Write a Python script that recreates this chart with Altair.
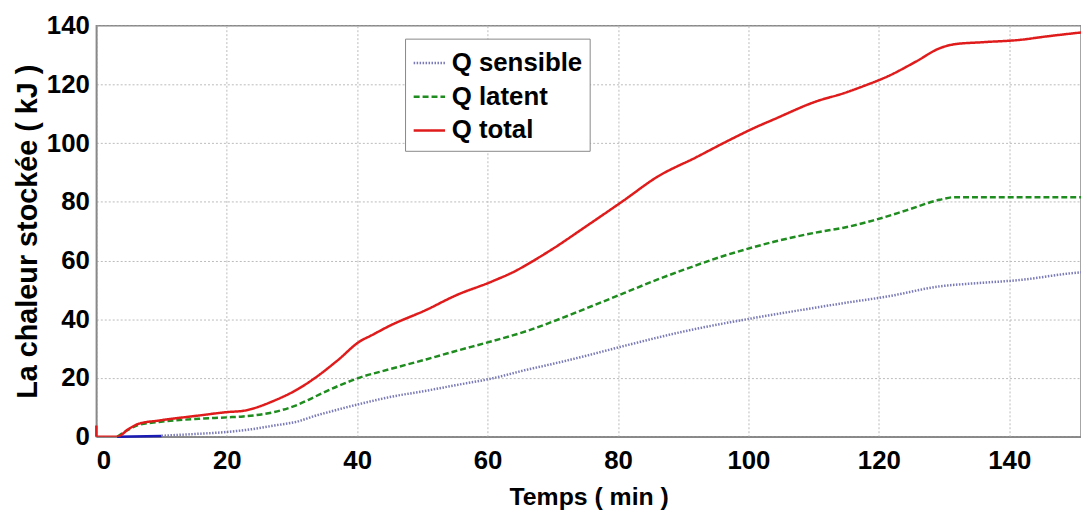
import altair as alt
import pandas as pd

# Q total (red)
t_total = [0, 3.2, 5, 6.5, 9.6, 15.7, 20.2, 22.5, 27.3, 30.9, 33.4, 37, 40.5, 42, 45, 50.7, 55, 60.8, 64.4, 66, 70, 75, 80.9, 86, 92, 97.3, 101, 103.9, 110.5, 114.6, 117.6, 121.4, 125.7, 129.3, 131.6, 136, 141.7, 145.5, 151]
q_total = [0, 0, 2.7, 4.4, 5.5, 7.2, 8.4, 8.8, 12.3, 16.2, 19.8, 26, 32.6, 34.3, 37.8, 43.3, 48, 53.0, 56.6, 58.6, 64, 71.5, 80.5, 88.5, 95.2, 101.3, 105.3, 108.1, 114.3, 117, 119.4, 122.8, 127.8, 132.3, 133.7, 134.4, 135.2, 136.3, 137.7]

# initial red spike at t = 0
t_spike = [0, 0]
q_spike = [3.8, 0]

# Q latent (green)
t_lat = [3.2, 5, 6.5, 9.6, 15.7, 20.2, 22.5, 27.3, 30.9, 33.4, 37, 40.5, 45, 50.7, 55, 60.8, 66, 70, 75, 80.9, 86, 90, 95.8, 101, 103.9, 110.5, 114.6, 119.2, 124.2, 129.3, 131.6, 140, 151]
q_lat = [0, 2.5, 4.0, 5.0, 6.1, 6.6, 6.9, 8.4, 10.9, 13.5, 17.2, 20.2, 23.0, 26.4, 29.1, 32.6, 36.0, 39.2, 43.6, 48.9, 53.5, 56.8, 61.3, 64.7, 66.4, 69.6, 71.2, 73.7, 77.1, 80.7, 81.6, 81.6, 81.6]

# Q sensible (dotted)
t_sen = [10, 15, 20, 24, 27.3, 30.9, 33.4, 37, 40.5, 45, 50.7, 55, 60.8, 66, 70, 75, 80.9, 90, 101, 103.9, 114.6, 121.4, 129.3, 135, 141.7, 149.6, 151]
q_sen = [0.3, 0.9, 1.6, 2.6, 3.8, 5.2, 7.0, 9.2, 11.2, 13.5, 15.7, 17.5, 19.9, 22.8, 24.8, 27.5, 30.9, 35.8, 40.5, 41.6, 45.5, 47.8, 51.2, 52.3, 53.4, 55.7, 56.0]

# initial blue segment
t_blue = [3.2, 10]
q_blue = [0, 0.2]

series = ["Q sensible", "Q latent", "Q total"]
colors = ["#7a7ab8", "#1e8c1e", "#e01b1b"]
dashes = [[1.5, 1.5], [6, 3], [1, 0]]

rows = []
for name, ts, qs in [("Q sensible", t_sen, q_sen), ("Q latent", t_lat, q_lat), ("Q total", t_total, q_total)]:
    for t, q in zip(ts, qs):
        rows.append({"t": t, "q": q, "serie": name})
df = pd.DataFrame(rows)
dfb = pd.DataFrame({"t": t_blue, "q": q_blue})
dfs = pd.DataFrame({"t": t_spike, "q": q_spike})

ticks = [0, 20, 40, 60, 80, 100, 120, 140]
xs = alt.Scale(domain=[0, 151], nice=False, zero=False)
ys = alt.Scale(domain=[0, 140], nice=False)

lines = alt.Chart(df).mark_line(strokeWidth=2.5, clip=True, interpolate="monotone").encode(
    x=alt.X("t:Q", scale=xs, title="Temps ( min )", axis=alt.Axis(values=ticks)),
    y=alt.Y("q:Q", scale=ys, title="La chaleur stockée ( kJ )", axis=alt.Axis(values=ticks)),
    color=alt.Color("serie:N", scale=alt.Scale(domain=series, range=colors), title=None,
                    legend=alt.Legend(orient="none", legendX=311, legendY=13)),
    strokeDash=alt.StrokeDash("serie:N", scale=alt.Scale(domain=series, range=dashes), title=None),
)

blue = alt.Chart(dfb).mark_line(strokeWidth=2.5, color="#1a1ab4").encode(
    x=alt.X("t:Q", scale=xs), y=alt.Y("q:Q", scale=ys)
)
spike = alt.Chart(dfs).mark_line(strokeWidth=2.5, color="#e01b1b").encode(
    x=alt.X("t:Q", scale=xs), y=alt.Y("q:Q", scale=ys)
)

chart = alt.layer(blue, spike, lines).properties(
    width=992, height=414,
    autosize=alt.AutoSizeParams(type="none"),
    padding={"left": 89, "top": 16, "right": 0, "bottom": 72},
).configure_view(
    stroke="#888888", strokeWidth=1.5
).configure_axis(
    labelFont="Liberation Sans", labelFontWeight="bold", labelFontSize=26, labelColor="black",
    titleFont="Liberation Sans", titleFontWeight="bold", titleColor="black",
    grid=True, gridColor="#bbbbbb", gridDash=[2, 2], gridWidth=1,
    domainColor="#888888", domainWidth=1.5, ticks=False,
).configure_axisX(
    labelPadding=11, titlePadding=11, titleFontSize=25
).configure_axisY(
    labelPadding=7, titlePadding=4, titleFontSize=29
).configure_legend(
    labelFont="Liberation Sans", labelFontWeight="bold", labelFontSize=26, labelColor="black",
    symbolType="stroke", symbolSize=1000, symbolStrokeWidth=2.5,
    strokeColor="#888888", fillColor="white", padding=7, rowPadding=3, labelOffset=5,
)

chart.save("out.html", embed_options={"renderer": "svg", "actions": False})
